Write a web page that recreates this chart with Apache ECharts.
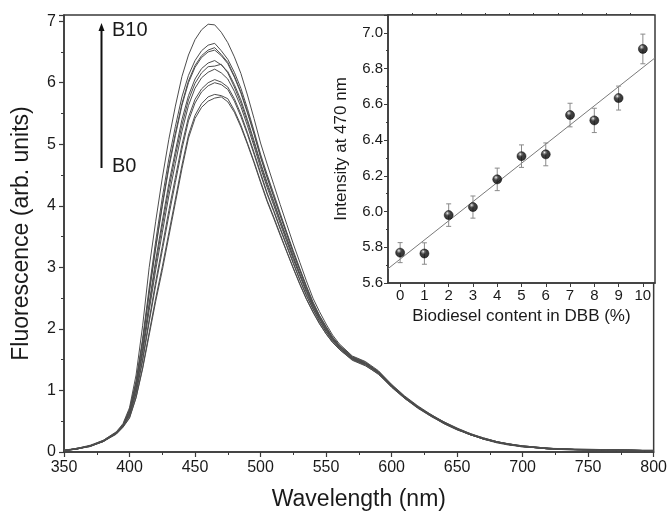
<!DOCTYPE html>
<html>
<head>
<meta charset="utf-8">
<script src="https://cdn.jsdelivr.net/npm/echarts@6/dist/echarts.min.js"></script>
<style>
html,body{margin:0;padding:0;background:#fff;}
#chart{width:670px;height:516px;}
</style>
</head>
<body>
<div id="chart"></div>
<script>
// Wavelength grid (nm)
const wavelengths = [350,360,370,380,390,395,
  400,405,410,415,420,425,430,435,440,445,450,455,460,465,470,475,480,485,490,495,500,505,510,515,520,525,530,535,540,545,550,555,560,
  570,580,590,600,610,620,630,640,650,660,670,680,690,700,720,740,760,780,800];

// Fluorescence spectra B0 ... B10
const b0 = [0.02,0.05,0.09,0.17,0.29,0.40,
  0.55,0.88,1.35,1.90,2.45,2.95,3.50,4.05,4.60,5.10,5.42,5.60,5.70,5.75,5.77,5.69,5.52,5.28,5.00,4.70,4.38,4.07,3.80,3.52,3.25,2.98,2.72,2.48,2.27,2.08,1.92,1.78,1.67,
  1.49,1.40,1.27,1.05,0.87,0.71,0.58,0.46,0.36,0.28,0.21,0.16,0.12,0.09,0.05,0.04,0.03,0.03,0.02];
const b1 = [0.02,0.05,0.10,0.17,0.30,0.41,
  0.56,0.89,1.37,1.94,2.50,3.01,3.56,4.11,4.66,5.15,5.47,5.66,5.77,5.81,5.79,5.74,5.55,5.31,5.02,4.72,4.40,4.09,3.82,3.54,3.26,2.99,2.73,2.49,2.28,2.09,1.92,1.78,1.67,
  1.50,1.41,1.26,1.06,0.88,0.72,0.59,0.47,0.37,0.28,0.21,0.15,0.11,0.09,0.05,0.04,0.03,0.02,0.02];
const b2 = [0.03,0.05,0.09,0.18,0.30,0.41,
  0.59,0.95,1.48,2.11,2.71,3.27,3.84,4.38,4.92,5.38,5.67,5.85,5.95,6.00,5.97,5.89,5.70,5.45,5.16,4.84,4.51,4.19,3.91,3.62,3.34,3.06,2.79,2.54,2.32,2.12,1.95,1.80,1.69,
  1.51,1.43,1.28,1.06,0.87,0.72,0.58,0.47,0.37,0.28,0.22,0.16,0.12,0.08,0.06,0.04,0.03,0.03,0.02];
const b3 = [0.02,0.06,0.10,0.17,0.31,0.42,
  0.60,0.97,1.51,2.15,2.77,3.34,3.92,4.46,4.99,5.44,5.73,5.90,6.00,6.05,6.01,5.93,5.74,5.49,5.19,4.87,4.54,4.21,3.93,3.64,3.36,3.08,2.80,2.55,2.33,2.13,1.96,1.81,1.69,
  1.51,1.42,1.29,1.07,0.88,0.73,0.59,0.46,0.36,0.29,0.21,0.16,0.12,0.09,0.05,0.03,0.03,0.02,0.02];
const b4 = [0.02,0.05,0.10,0.18,0.30,0.42,
  0.62,1.02,1.60,2.30,2.96,3.56,4.16,4.69,5.21,5.63,5.91,6.08,6.17,6.22,6.16,6.06,5.86,5.61,5.30,4.97,4.62,4.30,4.01,3.71,3.42,3.13,2.86,2.59,2.36,2.16,1.98,1.83,1.70,
  1.52,1.43,1.28,1.07,0.89,0.72,0.60,0.48,0.37,0.28,0.22,0.16,0.12,0.09,0.06,0.04,0.03,0.03,0.02];
const b5 = [0.03,0.05,0.10,0.18,0.31,0.43,
  0.65,1.06,1.68,2.42,3.12,3.75,4.36,4.89,5.40,5.79,6.06,6.23,6.32,6.36,6.29,6.18,5.97,5.72,5.40,5.06,4.70,4.38,4.08,3.77,3.48,3.18,2.90,2.63,2.39,2.18,2.00,1.84,1.72,
  1.53,1.44,1.30,1.08,0.89,0.73,0.59,0.47,0.38,0.29,0.22,0.17,0.12,0.09,0.05,0.04,0.04,0.03,0.02];
const b6 = [0.02,0.06,0.09,0.17,0.31,0.42,
  0.64,1.04,1.65,2.37,3.05,3.67,4.27,4.81,5.31,5.72,5.99,6.16,6.26,6.27,6.30,6.16,5.93,5.67,5.36,5.02,4.67,4.34,4.05,3.75,3.45,3.16,2.88,2.62,2.37,2.17,1.99,1.83,1.71,
  1.52,1.44,1.29,1.07,0.88,0.73,0.60,0.47,0.37,0.29,0.21,0.16,0.13,0.09,0.06,0.04,0.03,0.02,0.02];
const b7 = [0.02,0.05,0.10,0.18,0.32,0.44,
  0.68,1.13,1.80,2.60,3.34,4.02,4.65,5.18,5.66,6.03,6.28,6.44,6.53,6.57,6.46,6.33,6.11,5.85,5.53,5.18,4.80,4.47,4.16,3.85,3.55,3.24,2.96,2.68,2.42,2.21,2.03,1.86,1.73,
  1.54,1.45,1.30,1.08,0.90,0.74,0.60,0.48,0.38,0.29,0.22,0.17,0.12,0.10,0.06,0.04,0.03,0.03,0.02];
const b8 = [0.03,0.05,0.10,0.18,0.31,0.43,
  0.67,1.12,1.78,2.58,3.31,3.99,4.61,5.14,5.63,6.00,6.25,6.41,6.50,6.53,6.44,6.31,6.09,5.83,5.51,5.17,4.79,4.46,4.15,3.84,3.54,3.23,2.95,2.67,2.41,2.20,2.02,1.85,1.73,
  1.54,1.44,1.31,1.09,0.89,0.73,0.61,0.48,0.38,0.30,0.22,0.16,0.13,0.09,0.05,0.04,0.03,0.03,0.03];
const b9 = [0.02,0.06,0.10,0.19,0.32,0.44,
  0.69,1.15,1.84,2.67,3.43,4.13,4.76,5.29,5.77,6.12,6.36,6.52,6.61,6.64,6.52,6.38,6.17,5.91,5.58,5.22,4.84,4.51,4.20,3.88,3.57,3.27,2.98,2.70,2.44,2.22,2.04,1.87,1.74,
  1.55,1.46,1.30,1.09,0.90,0.74,0.60,0.49,0.38,0.29,0.23,0.17,0.13,0.10,0.06,0.04,0.04,0.03,0.02];
const b10 = [0.03,0.06,0.11,0.19,0.33,0.46,
  0.72,1.25,2.05,3.00,3.75,4.45,5.08,5.62,6.10,6.45,6.70,6.86,6.95,6.94,6.82,6.65,6.42,6.15,5.80,5.42,5.02,4.68,4.35,4.02,3.70,3.38,3.08,2.78,2.50,2.28,2.08,1.90,1.76,
  1.56,1.47,1.32,1.10,0.91,0.75,0.61,0.49,0.39,0.30,0.23,0.17,0.13,0.10,0.06,0.05,0.04,0.03,0.02];
const spectra = [b0,b1,b2,b3,b4,b5,b6,b7,b8,b9,b10];

// Inset: intensity at 470 nm vs biodiesel content
const content = [0,1,2,3,4,5,6,7,8,9,10];
const intensity = [5.77,5.765,5.98,6.025,6.18,6.31,6.32,6.54,6.51,6.635,6.91];
const errors = [0.056,0.060,0.063,0.062,0.063,0.063,0.064,0.066,0.068,0.067,0.083];
// Linear fit line end points
const fitX = [-0.5,10.5];
const fitY = [5.68,6.86];

const insetXTicks = [0,1,2,3,4,5,6,7,8,9,10];
const insetXMinor = [0.5,1.5,2.5,3.5,4.5,5.5,6.5,7.5,8.5,9.5];

const FONT = 'Liberation Sans, Arial, sans-serif';
const AX = '#3a3a3a';
const TXT = '#1a1a1a';

const chart = echarts.init(document.getElementById('chart'), null, {renderer:'canvas'});

const lineSeries = spectra.map((arr, i) => ({
  type:'line', name:'B'+i, xAxisIndex:0, yAxisIndex:0,
  data: wavelengths.map((w, k) => [w, arr[k]]),
  showSymbol:false, symbol:'none', smooth:false,
  lineStyle:{color:'#4d4d4d', width:1},
  z:2, silent:true
}));

const option = {
  animation:false,
  backgroundColor:'#fff',
  textStyle:{fontFamily:FONT},
  grid:[
    {left:64, right:15, top:15, bottom:61, show:true, borderColor:AX, borderWidth:1.5, backgroundColor:'transparent'},
    {left:388, right:15, top:15, bottom:233, show:true, borderColor:AX, borderWidth:1.5, backgroundColor:'#fff', z:5}
  ],
  xAxis:[
    {type:'value', gridIndex:0, min:350, max:800, interval:50,
     axisLine:{show:true, onZero:false, lineStyle:{color:AX, width:1.5}},
     axisTick:{show:true, length:5, lineStyle:{color:AX, width:1.2}},
     minorTick:{show:true, splitNumber:2, length:3, lineStyle:{color:AX, width:1}},
     splitLine:{show:false},
     axisLabel:{fontSize:16, color:TXT, margin:8, fontFamily:FONT},
     name:'Wavelength (nm)', nameLocation:'middle', nameGap:36,
     nameTextStyle:{fontSize:23, color:TXT, fontFamily:FONT}},
    {type:'value', gridIndex:1, min:-0.5, max:10.5,
     axisLine:{show:true, onZero:false, lineStyle:{color:AX, width:1.5}},
     axisTick:{show:true, length:4, customValues:insetXTicks, lineStyle:{color:AX, width:1}},
     splitLine:{show:false},
     axisLabel:{fontSize:15, color:TXT, margin:5, fontFamily:FONT, customValues:insetXTicks},
     name:'Biodiesel content in DBB (%)', nameLocation:'middle', nameGap:23,
     nameTextStyle:{fontSize:17, color:TXT, fontFamily:FONT}, z:6},
    {type:'value', gridIndex:1, min:-0.5, max:10.5,
     axisLine:{show:false},
     axisTick:{show:true, length:2, customValues:insetXMinor, lineStyle:{color:AX, width:1}},
     splitLine:{show:false},
     axisLabel:{show:false}, z:6}
  ],
  yAxis:[
    {type:'value', gridIndex:0, min:0, max:7.1, interval:1,
     axisLine:{show:true, onZero:false, lineStyle:{color:AX, width:1.5}},
     axisTick:{show:true, length:5, lineStyle:{color:AX, width:1.2}},
     minorTick:{show:true, splitNumber:2, length:3, lineStyle:{color:AX, width:1}},
     splitLine:{show:false},
     axisLabel:{fontSize:16, color:TXT, margin:8, fontFamily:FONT, showMaxLabel:false},
     name:'Fluorescence (arb. units)', nameLocation:'middle', nameGap:31,
     nameTextStyle:{fontSize:23, color:TXT, fontFamily:FONT}},
    {type:'value', gridIndex:1, min:5.6, max:7.1, interval:0.2,
     axisLine:{show:true, onZero:false, lineStyle:{color:AX, width:1.5}},
     axisTick:{show:true, length:4, lineStyle:{color:AX, width:1}},
     minorTick:{show:true, splitNumber:2, length:2, lineStyle:{color:AX, width:1}},
     splitLine:{show:false},
     axisLabel:{fontSize:15, color:TXT, margin:5, fontFamily:FONT, showMaxLabel:false,
       formatter:(v)=>Number(v).toFixed(1)},
     name:'Intensity at 470 nm', nameLocation:'middle', nameGap:38,
     nameTextStyle:{fontSize:17, color:TXT, fontFamily:FONT}, z:6}
  ],
  series:[
    ...lineSeries,
    {type:'line', xAxisIndex:1, yAxisIndex:1, data: fitX.map((x,i)=>[x, fitY[i]]),
     showSymbol:false, symbol:'none', lineStyle:{color:'#7a7a7a', width:1}, z:6, silent:true},
    {type:'custom', xAxisIndex:1, yAxisIndex:1, z:7, silent:true,
     data: content.map((c,i)=>[c, intensity[i]-errors[i], intensity[i]+errors[i]]),
     renderItem:(params, api)=>{
       const x = api.value(0);
       const lo = api.coord([x, api.value(1)]);
       const hi = api.coord([x, api.value(2)]);
       const hw = 2.5;
       const st = {stroke:'#8a8a8a', lineWidth:1};
       return {type:'group', children:[
         {type:'line', shape:{x1:lo[0], y1:lo[1], x2:hi[0], y2:hi[1]}, style:st},
         {type:'line', shape:{x1:lo[0]-hw, y1:lo[1], x2:lo[0]+hw, y2:lo[1]}, style:st},
         {type:'line', shape:{x1:hi[0]-hw, y1:hi[1], x2:hi[0]+hw, y2:hi[1]}, style:st}
       ]};
     }},
    {type:'scatter', xAxisIndex:1, yAxisIndex:1, z:8, silent:true,
     data: content.map((c,i)=>[c, intensity[i]]),
     symbol:'circle', symbolSize:9,
     itemStyle:{color:{type:'radial', x:0.38, y:0.3, r:0.7,
       colorStops:[{offset:0,color:'#f4f4f4'},{offset:0.18,color:'#777'},{offset:0.4,color:'#111'},{offset:1,color:'#000'}]},
       borderColor:'#000', borderWidth:0.6}}
  ],
  graphic:[
    {type:'line', shape:{x1:101.5, y1:168, x2:101.5, y2:30}, style:{stroke:'#111', lineWidth:2}, z:20},
    {type:'polygon', shape:{points:[[98.5,31],[104.5,31],[101.5,23]]}, style:{fill:'#111'}, z:20},
    {type:'text', left:112, top:20, style:{text:'B10', font:'20px '+FONT, fill:TXT}, z:20},
    {type:'text', left:112, top:156, style:{text:'B0', font:'20px '+FONT, fill:TXT}, z:20}
  ]
};
chart.setOption(option);
</script>
</body>
</html>
